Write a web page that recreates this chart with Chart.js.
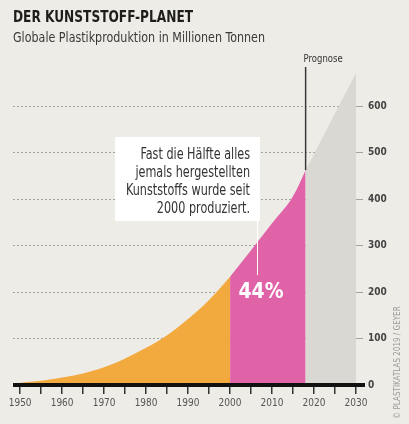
<!DOCTYPE html>
<html>
<head>
<meta charset="utf-8">
<script src="https://cdn.jsdelivr.net/npm/chart.js@4"></script>
<style>
  html, body { margin: 0; padding: 0; background: #eeece7; }
  #wrap { position: relative; width: 409px; height: 424px; }
</style>
</head>
<body>
<div id="wrap"><canvas id="chart" width="409" height="424"></canvas></div>
<script>
  // production in million tonnes
  const yearsPast = [1950, 1955, 1960, 1965, 1970, 1975, 1980, 1985, 1990, 1995, 2000];
  const prodPast = [5, 9, 16, 25, 38, 57, 80, 107, 142, 183, 233];
  const yearsRecent = [2000, 2005, 2010, 2015, 2018];
  const prodRecent = [233, 290, 348, 406, 462];
  const yearsForecast = [2018, 2030];
  const prodForecast = [462, 671];
  const xTicks = [1950, 1955, 1960, 1965, 1970, 1975, 1980, 1985, 1990, 1995, 2000, 2005, 2010, 2015, 2020, 2025, 2030];
  const yTicks = [0, 100, 200, 300, 400, 500, 600];
  const noteLines = ["Fast die Hälfte alles", "jemals hergestellten", "Kunststoffs wurde seit", "2000 produziert."];

  const FONT = "'DejaVu Sans Condensed', 'Liberation Sans', sans-serif";

  function pts(xs, ys) {
    return xs.map((x, i) => ({ x: x, y: ys[i] }));
  }

  // draw text squeezed horizontally by sx
  function squeezed(c, text, x, y, sx, align) {
    c.save();
    c.translate(x, y);
    c.scale(sx, 1);
    c.textAlign = align || "left";
    c.fillText(text, 0, 0);
    c.restore();
  }

  function fitScale(c, text, width) {
    return width / c.measureText(text).width;
  }

  const extras = {
    id: "extras",
    beforeDraw(chart) {
      const c = chart.ctx;
      c.save();
      c.fillStyle = "#eeece7";
      c.fillRect(0, 0, chart.width, chart.height);
      c.textBaseline = "alphabetic";
      c.fillStyle = "#1d1d1b";
      c.font = "bold 16px " + FONT;
      squeezed(c, "DER KUNSTSTOFF-PLANET", 13, 22, fitScale(c, "DER KUNSTSTOFF-PLANET", 180));
      c.fillStyle = "#3a3a3a";
      c.font = "14px " + FONT;
      const sub = "Globale Plastikproduktion in Millionen Tonnen";
      squeezed(c, sub, 13, 42, fitScale(c, sub, 252));
      c.restore();
    },
    afterDatasetsDraw(chart) {
      const c = chart.ctx;
      const xs = chart.scales.x, ys = chart.scales.y;
      c.save();
      // thick base line
      c.strokeStyle = "#111";
      c.lineWidth = 4;
      c.beginPath();
      c.moveTo(chart.chartArea.left, ys.getPixelForValue(0));
      c.lineTo(365, ys.getPixelForValue(0));
      c.stroke();

      // forecast marker
      const px = xs.getPixelForValue(yearsForecast[0]);
      c.strokeStyle = "#3a3a3a";
      c.lineWidth = 1.5;
      c.beginPath();
      c.moveTo(px, 67);
      c.lineTo(px, ys.getPixelForValue(prodForecast[0]));
      c.stroke();
      c.fillStyle = "#333";
      c.font = "10px " + FONT;
      squeezed(c, "Prognose", px - 2, 62, fitScale(c, "Prognose", 39));

      // note box + leader
      c.fillStyle = "#ffffff";
      c.fillRect(115, 137, 145, 84);
      c.strokeStyle = "#ffffff";
      c.lineWidth = 1;
      c.beginPath();
      c.moveTo(257.5, 221);
      c.lineTo(257.5, 275);
      c.stroke();
      c.fillStyle = "#333";
      c.font = "15px " + FONT;
      c.textBaseline = "middle";
      const nsx = fitScale(c, noteLines[2], 124);
      noteLines.forEach((t, i) => squeezed(c, t, 250, 155 + i * 18, nsx, "right"));

      c.fillStyle = "#ffffff";
      c.font = "bold 22px " + FONT;
      squeezed(c, "44%", 261, 292, fitScale(c, "44%", 45), "center");

      // source
      c.translate(398, 419);
      c.rotate(-Math.PI / 2);
      c.textAlign = "left";
      c.fillStyle = "#9a9a96";
      c.font = "8px " + FONT;
      c.fillText("© PLASTIKATLAS 2019 / GEYER", 0, 0);
      c.restore();
    }
  };

  new Chart(document.getElementById("chart"), {
    type: "line",
    data: {
      datasets: [
        { data: pts(yearsPast, prodPast), backgroundColor: "#f2a93e", fill: "origin" },
        { data: pts(yearsRecent, prodRecent), backgroundColor: "#e063a8", fill: "origin" },
        { data: pts(yearsForecast, prodForecast), backgroundColor: "#dad8d2", fill: "origin" }
      ]
    },
    options: {
      responsive: false,
      animation: false,
      events: [],
      layout: { padding: { top: 59.5, left: 13, right: 0, bottom: 0 } },
      elements: {
        line: { borderWidth: 0, cubicInterpolationMode: "monotone" },
        point: { radius: 0 }
      },
      plugins: { legend: { display: false }, tooltip: { enabled: false } },
      scales: {
        x: {
          type: "linear",
          min: 1948.3,
          max: 2030,
          afterBuildTicks: (s) => { s.ticks = xTicks.map((v) => ({ value: v })); },
          afterFit: (s) => { s.height = 39; },
          grid: { drawOnChartArea: false, drawTicks: true, tickLength: 9, color: "#333", lineWidth: 1.5 },
          border: { display: false },
          ticks: {
            autoSkip: false,
            maxRotation: 0,
            padding: 3,
            color: "#555",
            font: { size: 10, family: FONT },
            callback: (v) => (v % 10 === 0 ? String(v) : "")
          }
        },
        y: {
          position: "right",
          min: 0,
          max: 700,
          afterBuildTicks: (s) => { s.ticks = yTicks.map((v) => ({ value: v })); },
          afterFit: (s) => { s.width = 409 - 356; },
          grid: {
            color: (ctx) => (ctx.tick && ctx.tick.value === 0 ? "rgba(0,0,0,0)" : "#a3a29e"),
            lineWidth: 1,
            tickLength: 7,
            drawTicks: true
          },
          border: { display: false, dash: [2, 2] },
          ticks: {
            padding: 5,
            color: "#444",
            font: { size: 10, family: FONT, weight: "bold" }
          }
        }
      }
    },
    plugins: [extras]
  });
</script>
</body>
</html>
